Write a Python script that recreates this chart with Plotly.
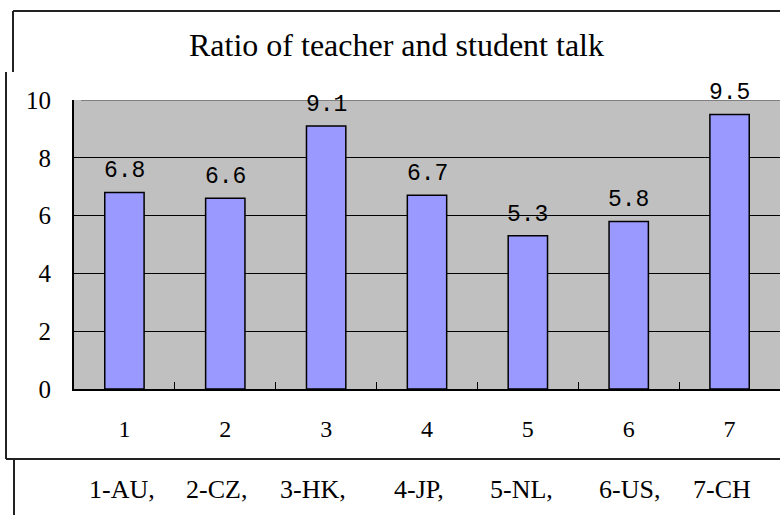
import plotly.graph_objects as go

categories = ["1", "2", "3", "4", "5", "6", "7"]
values = [6.8, 6.6, 9.1, 6.7, 5.3, 5.8, 9.5]
value_labels = ["6.8", "6.6", "9.1", "6.7", "5.3", "5.8", "9.5"]
country_labels = ["1-AU,", "2-CZ,", "3-HK,", "4-JP,", "5-NL,", "6-US,", "7-CH"]
title_text = "Ratio of teacher and student talk"

W, H = 780, 515
L, R, T, B = 74, 0, 100, 126  # plot area: x 74..780, y 100..389
PW, PH = W - L - R, H - T - B

def px(x):
    return (x - L) / PW

def py(y):
    return (H - B - y) / PH

fig = go.Figure()
fig.add_trace(go.Bar(
    x=categories, y=values, width=0.39,
    marker=dict(color="#9999FF", line=dict(color="black", width=1.5)),
    hoverinfo="skip",
))

serif = "Liberation Serif, Times New Roman, serif"

annotations = []
for i, (v, t) in enumerate(zip(values, value_labels)):
    annotations.append(dict(
        x=i, y=v, xref="x", yref="y", text=t, showarrow=False,
        yanchor="bottom", yshift=6,
        font=dict(family="Liberation Mono, monospace", size=23, color="black"),
    ))

label_centers = [121.5, 216, 312.5, 418.5, 521, 629.5, 721.5]
for lbl, cx in zip(country_labels, label_centers):
    annotations.append(dict(
        x=px(cx), y=py(489), xref="paper", yref="paper", text=lbl,
        showarrow=False, xanchor="center", yanchor="middle",
        font=dict(family=serif, size=26, color="black"),
    ))

annotations.append(dict(
    x=px(396), y=py(45), xref="paper", yref="paper", text=title_text,
    showarrow=False, xanchor="center", yanchor="middle",
    font=dict(family=serif, size=32, color="black"),
))

frame = dict(color="#222222", width=2)
shapes = [
    dict(type="line", xref="paper", yref="paper", x0=px(13), x1=px(781), y0=py(11), y1=py(11), line=frame),
    dict(type="line", xref="paper", yref="paper", x0=px(13), x1=px(13), y0=py(11), y1=py(72), line=frame),
    dict(type="line", xref="paper", yref="paper", x0=px(6), x1=px(6), y0=py(72), y1=py(459), line=frame),
    dict(type="line", xref="paper", yref="paper", x0=px(6), x1=px(781), y0=py(459), y1=py(459), line=frame),
    dict(type="line", xref="paper", yref="paper", x0=px(14), x1=px(14), y0=py(459), y1=py(516), line=frame),
    dict(type="line", xref="paper", yref="y", x0=px(81), x1=1.01, y0=10, y1=10,
         line=dict(color="#808080", width=2), layer="above"),
]

fig.update_layout(
    width=W, height=H,
    margin=dict(l=L, r=R, t=T, b=B, pad=0),
    paper_bgcolor="white", plot_bgcolor="#C0C0C0",
    showlegend=False, bargap=0.61,
    annotations=annotations, shapes=shapes,
    font=dict(family=serif, color="black"),
)
fig.update_xaxes(
    type="category", range=[-0.5, 6.5], tickson="boundaries",
    ticks="inside", ticklen=7, tickcolor="black", tickwidth=1,
    showline=True, linecolor="black", linewidth=2, showgrid=False,
    tickfont=dict(family=serif, size=24, color="black"),
    ticklabelstandoff=17, zeroline=False,
)
fig.update_yaxes(
    range=[0, 10], tickvals=[0, 2, 4, 6, 8, 10],
    ticks="inside", ticklen=7, tickcolor="black", tickwidth=1,
    showline=True, linecolor="black", linewidth=2,
    showgrid=True, gridcolor="black", gridwidth=1, zeroline=False,
    tickfont=dict(family=serif, size=25, color="black"),
    ticklabelstandoff=16,
)

fig.write_html(
    "out.html",
    config={"displayModeBar": False},
    post_script="document.body.style.margin='0';document.body.style.overflow='hidden';",
)
